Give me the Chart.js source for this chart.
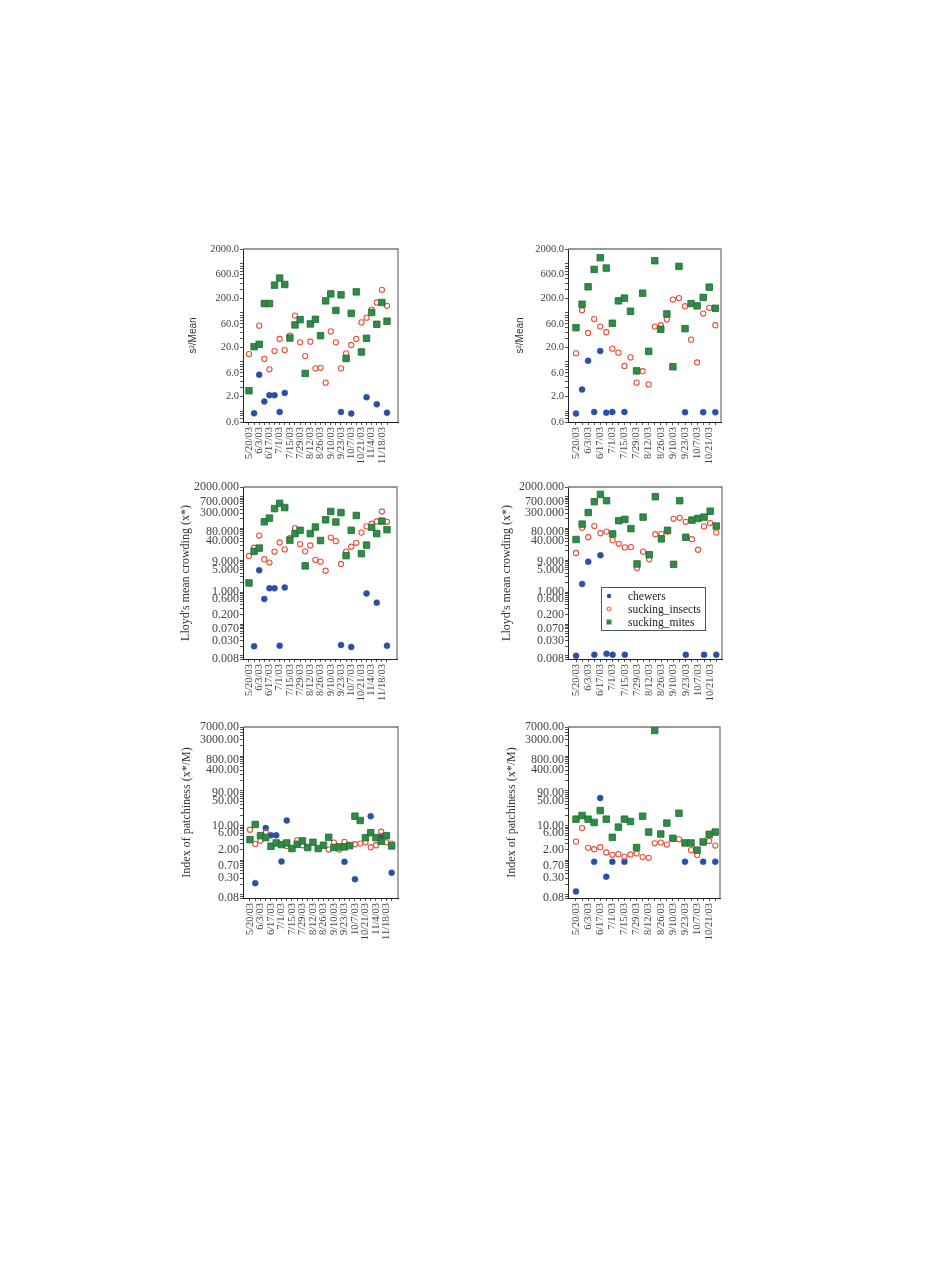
<!DOCTYPE html>
<html>
<head>
<meta charset="utf-8">
<script src="https://cdn.jsdelivr.net/npm/chart.js@4.4.1/dist/chart.umd.min.js"></script>
<style>
  body { margin: 0; background: #fff; width: 941px; height: 1287px; position: relative; overflow: hidden; }
  canvas { position: absolute; }
</style>
</head>
<body>
<canvas id="c1" width="240" height="236" style="left:170px;top:240px"></canvas>
<canvas id="c2" width="240" height="236" style="left:495px;top:240px"></canvas>
<canvas id="c3" width="240" height="240" style="left:170px;top:478px"></canvas>
<canvas id="c4" width="240" height="240" style="left:495px;top:478px"></canvas>
<canvas id="c5" width="240" height="250" style="left:170px;top:718px"></canvas>
<canvas id="c6" width="240" height="250" style="left:495px;top:718px"></canvas>
<script>
// sampling dates (only every other one is labelled on the axis)
const datesLeft = ['5/20/03','','6/3/03','','6/17/03','','7/1/03','','7/15/03','','7/29/03','','8/12/03','','8/26/03','','9/10/03','','9/23/03','','10/7/03','','10/21/03','','11/4/03','','11/18/03',''];
const datesRight = ['5/20/03','','6/3/03','','6/17/03','','7/1/03','','7/15/03','','7/29/03','','8/12/03','','8/26/03','','9/10/03','','9/23/03','','10/7/03','','10/21/03',''];

// labelled y ticks
const s2mTicks = [0.6, 2, 6, 20, 60, 200, 600, 2000];
const lloydTicks = [0.008, 0.03, 0.07, 0.2, 0.6, 1, 5, 9, 40, 80, 300, 700, 2000];
const patchTicks = [0.08, 0.3, 0.7, 2, 6, 10, 50, 90, 400, 800, 3000, 7000];

// s^2/Mean, left
const s2mLeftChewers = [null,0.90,5.5,1.57,2.11,2.11,0.96,2.35,null,null,null,null,null,null,null,null,null,null,0.96,null,0.89,null,null,1.92,null,1.38,null,0.93];
const s2mLeftInsects = [14.5,null,55,11.5,7.1,16.7,29.4,17.5,34.4,88,25.1,13.2,25.9,7.4,7.6,3.8,42,25.1,7.4,15,22.2,29.4,64,80,117,163,295,139];
const s2mLeftMites = [2.6,20.5,22.9,155,155,367,511,379,30.8,56.9,73,5.85,59.6,74,34.4,176,244,112,233,11.8,98,268,16,30.3,102,58.6,163,67.6];
// s^2/Mean, right
const s2mRightChewers = [0.89,2.75,10.6,0.96,16.7,0.93,0.96,null,0.96,null,null,null,null,null,null,null,null,null,0.95,null,null,0.95,null,0.95];
const s2mRightInsects = [15,113,39,75,52.6,40.3,18.7,15.5,8.3,12.4,3.8,6.5,3.5,52.6,56,73,187,200,137,28.5,9.8,97,127,56];
const s2mRightMites = [50,150,340,768,1330,818,61.5,176,200,108,6.6,252,16.5,1155,46.4,95,8.0,885,47.8,155,139,206,334,124];

// Lloyd's mean crowding, left
const lloydLeftChewers = [null,0.020,4.9,0.61,1.33,1.33,0.021,1.40,null,null,null,null,null,null,null,null,null,null,0.022,null,0.019,null,null,0.91,null,0.47,null,0.021];
const lloydLeftInsects = [13.7,24.8,59.8,10.8,8.5,18.7,36.3,22,49.5,103,32.2,19.1,29.3,10.3,9.1,4.7,51.9,39.9,7.7,18.7,26.7,35.5,74,116,141,166,340,162];
const lloydLeftMites = [1.95,19.1,24.2,162,211,421,615,452,42.9,69,87.5,6.7,69,111,41.9,187,340,159,316,14,87.5,255,16.2,30,108,69,170,91.8];
// Lloyd's mean crowding, right
const lloydRightChewers = [0.0101,1.81,9.1,0.0109,14.4,0.0117,0.0109,null,0.0109,null,null,null,null,null,null,null,null,null,0.0109,null,null,0.0109,null,0.0109];
const lloydRightInsects = [17,106,53,119,70.7,79.6,42.9,33,25.4,26,5.7,18.7,10.8,65.8,67.4,80,201,216,162,46,21.5,116,148,74];
const lloydRightMites = [45,137,316,693,1170,745,67.4,175,192,98.6,7.7,227,15,991,47.2,87.5,7.5,745,53,183,206,227,348,119];

// Index of patchiness, left
const patchLeftChewers = [null,0.215,null,8.4,5.18,5.18,0.91,13.9,null,null,null,null,null,null,null,null,null,null,0.89,null,0.28,null,null,18.5,null,4.85,null,0.43];
const patchLeftInsects = [7.5,2.93,3.64,6.45,null,null,null,2.56,null,3.72,2.68,null,null,null,null,2.01,3.19,2.01,3.34,null,2.86,2.99,3.26,2.35,2.68,6.59,3.26,2.99];
const patchLeftMites = [3.89,10.7,5.06,4.44,2.51,3.12,2.80,3.12,2.15,2.86,3.57,2.30,3.26,2.15,2.68,4.54,2.30,2.40,2.40,2.62,18.5,13.9,4.44,6.17,4.44,3.49,5.06,2.56];
// Index of patchiness, right
const patchRightChewers = [0.124,null,null,0.89,61.8,0.33,0.89,null,0.89,null,null,null,null,null,null,null,null,null,0.89,null,null,0.89,null,0.89];
const patchRightInsects = [3.41,8.39,2.25,2.06,2.35,1.65,1.42,1.48,1.24,1.45,1.55,1.22,1.16,3.05,3.19,2.80,null,3.98,null,1.93,1.39,3.26,3.57,2.62];
const patchRightMites = [15.2,19.3,15.2,12.2,26.9,15.2,4.54,8.96,15.2,13.0,2.30,18.5,6.45,5560,5.65,11.7,4.25,22.5,3.12,3.12,1.93,3.34,5.53,6.45];

const BLUE = '#2a50a6';
const RED = '#e8503c';
const GREEN = '#2f8c45';
const GREEN_EDGE = '#1f6b33';
const SERIF = '"Liberation Serif", "Times New Roman", serif';
const SANS = '"Liberation Sans", Arial, sans-serif';

// all 1..9 x 10^k values in a range, used as (mostly unlabelled) log ticks
function logTicks(min, max) {
  const out = [];
  for (let k = -3; k <= 4; k++) {
    for (let n = 1; n <= 9; n++) {
      const v = Number((n * Math.pow(10, k)).toPrecision(6));
      if (v >= min * 0.9999 && v <= max * 1.0001) out.push(v);
    }
  }
  return out;
}

// grey frame round the plot area
const framePlugin = {
  id: 'frame',
  beforeDatasetsDraw(chart) {
    const a = chart.chartArea;
    const ctx = chart.ctx;
    ctx.save();
    ctx.strokeStyle = '#7a7a7a';
    ctx.lineWidth = 1.3;
    ctx.beginPath();
    ctx.moveTo(a.left, a.top);
    ctx.lineTo(a.right, a.top);
    ctx.lineTo(a.right, a.bottom);
    ctx.stroke();
    ctx.restore();
  }
};

// boxed legend inside the Lloyd's (right) panel
const legendPlugin = {
  id: 'boxLegend',
  afterDatasetsDraw(chart) {
    const ctx = chart.ctx;
    ctx.save();
    ctx.fillStyle = '#fff';
    ctx.fillRect(106, 109, 104, 43);
    ctx.strokeStyle = '#555';
    ctx.lineWidth = 1;
    ctx.strokeRect(106.5, 109.5, 104, 43);
    chart.data.datasets.forEach((ds, i) => {
      const y = 118 + i * 13;
      ctx.beginPath();
      if (ds.pointStyle === 'rect') {
        ctx.fillStyle = ds.backgroundColor;
        ctx.fillRect(111.5, y - 2.5, 5, 5);
      } else if (ds.backgroundColor === BLUE) {
        ctx.fillStyle = BLUE;
        ctx.arc(114, y, 2.2, 0, Math.PI * 2);
        ctx.fill();
      } else {
        ctx.strokeStyle = RED;
        ctx.lineWidth = 1;
        ctx.arc(114, y, 2, 0, Math.PI * 2);
        ctx.stroke();
      }
      ctx.fillStyle = '#222';
      ctx.font = '11.5px ' + SERIF;
      ctx.textBaseline = 'middle';
      ctx.fillText(ds.label, 133, y + 0.5);
    });
    ctx.restore();
  }
};

function makePanel(id, cfg) {
  const pts = arr => arr.map((v, i) => ({ x: i, y: v }));
  const allTicks = logTicks(cfg.yMin, cfg.yMax);
  new Chart(document.getElementById(id), {
    type: 'scatter',
    data: {
      datasets: [
        { label: 'chewers', data: pts(cfg.chewers), pointStyle: 'circle', pointRadius: 3,
          backgroundColor: BLUE, borderColor: BLUE, borderWidth: 0.5, order: 3 },
        { label: 'sucking_insects', data: pts(cfg.insects), pointStyle: 'circle', pointRadius: 2.6,
          backgroundColor: 'rgba(255,255,255,0)', borderColor: RED, borderWidth: 1.1, order: 2 },
        { label: 'sucking_mites', data: pts(cfg.mites), pointStyle: 'rect', pointRadius: 4.6,
          backgroundColor: GREEN, borderColor: GREEN_EDGE, borderWidth: 0.8, order: 1 }
      ]
    },
    options: {
      responsive: false,
      animation: false,
      devicePixelRatio: 1,
      layout: { padding: { left: 0, top: cfg.padTop, right: cfg.padRight, bottom: 0 } },
      plugins: { legend: { display: false }, tooltip: { enabled: false } },
      scales: {
        x: {
          type: 'linear',
          min: cfg.xMin,
          max: cfg.xMax,
          afterBuildTicks: s => { s.ticks = cfg.dates.map((d, i) => ({ value: i })); },
          afterFit: s => { s.height = cfg.xHeight; },
          ticks: {
            autoSkip: false, minRotation: 90, maxRotation: 90, padding: 2,
            color: '#444', font: { family: SERIF, size: 10.5 },
            callback: (v, i) => cfg.dates[i]
          },
          grid: { drawOnChartArea: false, tickLength: 3, color: '#555' },
          border: { color: '#222', width: 1 }
        },
        y: {
          type: 'logarithmic',
          min: cfg.yMin,
          max: cfg.yMax,
          afterBuildTicks: s => { s.ticks = allTicks.map(v => ({ value: v })); },
          afterFit: s => { s.width = cfg.yWidth; },
          ticks: {
            autoSkip: false, padding: 1,
            color: '#444', font: { family: SERIF, size: cfg.tickSize },
            callback: v => cfg.yLabels.some(l => Math.abs(l - v) < l * 1e-6) ? v.toFixed(cfg.dec) : ''
          },
          grid: { drawOnChartArea: false, tickLength: 3, color: '#555' },
          border: { color: '#222', width: 1 },
          title: {
            display: true, text: cfg.title, color: '#333',
            font: { family: cfg.titleFont, size: cfg.titleSize },
            padding: { top: cfg.titlePad, bottom: 0 }
          }
        }
      }
    },
    plugins: cfg.legend ? [framePlugin, legendPlugin] : [framePlugin]
  });
}

const leftBase = { dates: datesLeft, yWidth: 73, padTop: 9, padRight: 12, xMin: -1.17, xMax: 29.15 };
const rightBase = { dates: datesRight, yWidth: 73, padTop: 9, padRight: 14, xMin: -1.32, xMax: 23.94 };

makePanel('c1', Object.assign({}, leftBase, {
  chewers: s2mLeftChewers, insects: s2mLeftInsects, mites: s2mLeftMites,
  yMin: 0.6, yMax: 2000, yLabels: s2mTicks, dec: 1, tickSize: 10.5,
  title: 's\u00b2/Mean', titleFont: SANS, titleSize: 10, titlePad: 17, xHeight: 54
}));
makePanel('c2', Object.assign({}, rightBase, {
  chewers: s2mRightChewers, insects: s2mRightInsects, mites: s2mRightMites,
  yMin: 0.6, yMax: 2000, yLabels: s2mTicks, dec: 1, tickSize: 10.5,
  title: 's\u00b2/Mean', titleFont: SANS, titleSize: 10, titlePad: 19, xHeight: 54
}));
makePanel('c3', Object.assign({}, leftBase, {
  chewers: lloydLeftChewers, insects: lloydLeftInsects, mites: lloydLeftMites,
  yMin: 0.008, yMax: 2000, yLabels: lloydTicks, dec: 3, tickSize: 12,
  title: "Lloyd's mean crowding (x*)", titleFont: SERIF, titleSize: 12, titlePad: 9,
  xHeight: 59, padRight: 13, xMax: 28.96
}));
makePanel('c4', Object.assign({}, rightBase, {
  chewers: lloydRightChewers, insects: lloydRightInsects, mites: lloydRightMites,
  yMin: 0.008, yMax: 2000, yLabels: lloydTicks, dec: 3, tickSize: 12,
  title: "Lloyd's mean crowding (x*)", titleFont: SERIF, titleSize: 12, titlePad: 5,
  xHeight: 59, padRight: 13, legend: true
}));
makePanel('c5', Object.assign({}, leftBase, {
  chewers: patchLeftChewers, insects: patchLeftInsects, mites: patchLeftMites,
  yMin: 0.08, yMax: 7000, yLabels: patchTicks, dec: 2, tickSize: 12,
  title: 'Index of patchiness (x*/M)', titleFont: SERIF, titleSize: 12, titlePad: 10,
  xHeight: 70, xMin: -1.33, xMax: 28.2
}));
makePanel('c6', Object.assign({}, rightBase, {
  chewers: patchRightChewers, insects: patchRightInsects, mites: patchRightMites,
  yMin: 0.08, yMax: 7000, yLabels: patchTicks, dec: 2, tickSize: 12,
  title: 'Index of patchiness (x*/M)', titleFont: SERIF, titleSize: 12, titlePad: 10,
  xHeight: 70, padRight: 15, xMax: 23.78
}));
</script>
</body>
</html>
